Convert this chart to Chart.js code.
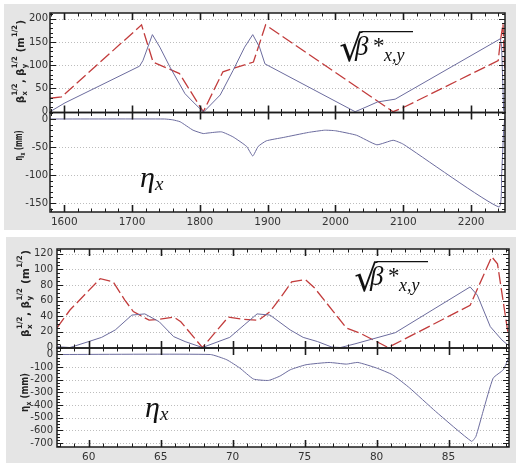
<!DOCTYPE html>
<html>
<head>
<meta charset="utf-8">
<script src="https://cdn.jsdelivr.net/npm/chart.js@4"></script>
<style>
  body { margin: 0; background: #fff; width: 516px; height: 463px; overflow: hidden; position: relative; }
  .fig { position: absolute; background: #e5e5e5; }
  #f1 { left: 4px; top: 4px; width: 512px; height: 226px; }
  #f2 { left: 6px; top: 237px; width: 510px; height: 226px; }
  canvas { display: block; }
</style>
</head>
<body>
<div class="fig" id="f1"><canvas id="c1" width="512" height="226"></canvas></div>
<div class="fig" id="f2"><canvas id="c2" width="510" height="226"></canvas></div>
<script>
// ---- top figure (s from 1580 to 2250 m) ----
const topSTicks = [1600, 1700, 1800, 1900, 2000, 2100, 2200];
const topBetaTicks = [0, 50, 100, 150, 200];
const topEtaTicks = [0, -50, -100, -150];

// sqrt(beta_x), solid
const topBxS = [1579, 1601, 1711, 1716, 1730, 1741, 1756, 1778, 1790, 1802, 1806, 1830, 1849, 1866, 1878, 1888, 1896, 2029, 2045, 2062, 2088, 2243, 2245, 2248];
const topBxV = [0, 19, 98, 110, 166, 139, 96, 39, 21, 4, 0, 36, 89, 139, 166, 139, 103, 0, 10, 21, 27, 157, 140, 2];
// sqrt(beta_y), dashed
const topByS = [1579, 1596, 1714, 1731, 1753, 1770, 1805, 1834, 1879, 1897, 2085, 2100, 2240, 2243, 2247, 2250];
const topByV = [29, 32, 187, 107, 93, 82, 0, 86, 107, 187, 0, 9, 110, 150, 189, 80];
// eta_x
const topEtaS = [1579, 1748, 1760, 1771, 1790, 1805, 1812, 1832, 1849, 1869, 1878, 1886, 1898, 1923, 1960, 1984, 2000, 2031, 2061, 2085, 2100, 2241, 2245, 2248, 2250];
const topEtaV = [0, 0, -1.5, -5, -20, -26, -25, -23, -32, -49, -66, -49, -39, -33, -24, -20, -21, -29, -46, -38, -45, -157, -100, -20, 5];

// ---- bottom figure (s from 57.8 to 89.2 m) ----
const botSTicks = [60, 65, 70, 75, 80, 85];
const botBetaTicks = [0, 20, 40, 60, 80, 100, 120];
const botEtaTicks = [0, -100, -200, -300, -400, -500, -600, -700];

const botBxS = [57.8, 58.7, 60, 60.9, 61.85, 63.0, 63.9, 64.9, 65.9, 66.7, 67.9, 69.8, 70.8, 71.7, 72.6, 74.0, 74.9, 75.9, 76.9, 77.5, 78.5, 81.3, 86.5, 87.0, 87.9, 88.7, 89.2];
const botBxV = [1, 0, 7.6, 13, 22.5, 41.5, 43, 33, 14, 7.6, 0, 13, 28.8, 43, 41.5, 22.5, 13, 7.6, 0.5, 0, 4.7, 19, 77.5, 67, 26.7, 9.8, 2];
const botByS = [57.8, 58.7, 60.8, 61.7, 62.5, 63.1, 64.2, 64.9, 65.9, 66.4, 67.9, 69.7, 70.8, 71.8, 72.6, 73.3, 74.1, 75.05, 75.7, 77.0, 77.9, 78.9, 80.8, 86.5, 88.0, 88.4, 89.2];
const botByV = [25, 48, 88, 84, 61, 46, 35, 36, 39, 33, 0, 39, 36, 35, 46, 63, 84, 87, 76, 46, 25, 18, 0, 54, 116, 107, 10];
const botEtaS = [57.8, 68.45, 69.6, 70.5, 71.45, 72.5, 73.3, 74.0, 75.1, 76.7, 77.9, 78.7, 80.0, 81.1, 82.3, 84.1, 86.6, 86.9, 87.4, 88.1, 88.8, 89.2];
const botEtaV = [0, 0, -42, -107, -194, -205, -170, -121, -81, -63, -76, -63, -107, -160, -265, -450, -687, -648, -450, -187, -121, -20];

const BLUE = '#6c6c9e';
const RED = '#c23c3c';
const TXT = '#333';
const SANS = '"DejaVu Sans", sans-serif';
const SERIF = '"Liberation Serif", serif';

function pts(xs, ys) {
  return xs.map((x, i) => ({ x: x, y: ys[i] }));
}

function fixedTicks(list) {
  return s => { s.ticks = list.map(v => ({ value: v })); };
}

// rotated axis title with stacked sub/superscripts
function drawRich(ctx, parts, cx, cy, len) {
  const big = 'bold 11px ' + SANS, small = 'bold 7.5px ' + SANS;
  let w = 0;
  const ws = parts.map(p => {
    let pw;
    if (typeof p === 'string') {
      ctx.font = big;
      pw = ctx.measureText(p).width;
    } else {
      ctx.font = small;
      pw = Math.max(ctx.measureText(p.sub || '').width, ctx.measureText(p.sup || '').width) + 1;
    }
    w += pw;
    return pw;
  });
  ctx.save();
  ctx.translate(cx, cy);
  ctx.rotate(-Math.PI / 2);
  ctx.scale(len / w, 1);
  ctx.fillStyle = '#222';
  ctx.textAlign = 'left';
  ctx.textBaseline = 'alphabetic';
  let x = -w / 2;
  parts.forEach((p, i) => {
    if (typeof p === 'string') {
      ctx.font = big;
      ctx.fillText(p, x, 4);
    } else {
      ctx.font = small;
      if (p.sub) ctx.fillText(p.sub, x + 0.5, 7.5);
      if (p.sup) ctx.fillText(p.sup, x + 0.5, -2.5);
    }
    x += ws[i];
  });
  ctx.restore();
}

function drawEta(ctx, x, y) {
  ctx.fillStyle = '#111';
  ctx.textAlign = 'left';
  ctx.textBaseline = 'alphabetic';
  ctx.font = 'italic 30px ' + SERIF;
  ctx.fillText('η', x, y);
  ctx.font = 'italic 19px ' + SERIF;
  ctx.fillText('x', x + 15, y + 3);
}

function drawRoot(ctx, x0, y0) {
  const h = 31;
  ctx.fillStyle = '#111';
  ctx.strokeStyle = '#111';
  ctx.textAlign = 'left';
  ctx.textBaseline = 'alphabetic';
  ctx.font = '100px "DejaVu Serif"';
  const m = ctx.measureText('√');
  const k = h / (m.actualBoundingBoxAscent + m.actualBoundingBoxDescent);
  ctx.font = (100 * k).toFixed(1) + 'px "DejaVu Serif"';
  const bx = x0 + m.actualBoundingBoxLeft * k;
  const by = y0 + m.actualBoundingBoxAscent * k;
  ctx.fillText('√', bx, by);
  const right = bx + m.actualBoundingBoxRight * k;
  ctx.lineWidth = 1.2;
  ctx.beginPath();
  ctx.moveTo(right - 1, y0 + 0.6);
  ctx.lineTo(x0 + 73, y0 + 0.6);
  ctx.stroke();
  ctx.font = 'italic 27px ' + SERIF;
  ctx.fillText('β', x0 + 15, y0 + 24);
  ctx.font = '23px ' + SERIF;
  ctx.textBaseline = 'top';
  ctx.fillText('*', x0 + 33, y0 + 4);
  ctx.textBaseline = 'alphabetic';
  ctx.font = 'italic 18px ' + SERIF;
  ctx.fillText('x,y', x0 + 44, y0 + 30);
}

function makeDecor(f) {
  return {
    id: 'decor',
    beforeDraw(chart) {
      const a = chart.chartArea, ctx = chart.ctx;
      ctx.save();
      ctx.fillStyle = '#fff';
      ctx.fillRect(a.left, a.top, a.right - a.left, a.bottom - a.top);
      ctx.restore();
    },
    beforeDatasetsDraw(chart) {
      const a = chart.chartArea, ctx = chart.ctx;
      ctx.save();
      ctx.strokeStyle = '#bdbdbd';
      ctx.lineWidth = 1;
      ctx.setLineDash([1, 2]);
      ['yb', 'ye'].forEach(id => {
        const s = chart.scales[id];
        s.ticks.forEach(t => {
          if (t.value === 0) return;
          const y = Math.round(s.getPixelForValue(t.value)) + 0.5;
          ctx.beginPath();
          ctx.moveTo(a.left, y);
          ctx.lineTo(a.right, y);
          ctx.stroke();
        });
      });
      ctx.restore();
    },
    afterDatasetsDraw(chart) {
      const a = chart.chartArea, ctx = chart.ctx, xs = chart.scales.x;
      ctx.save();
      ctx.strokeStyle = '#1c1c1c';
      [['yb', f.bMajor, f.bMinor], ['ye', f.eMajor, f.eMinor]].forEach(([id, major, minor]) => {
        const s = chart.scales[id];
        const top = s.top, bot = s.bottom;
        // x ticks, inward from top and bottom edge
        for (let v = Math.ceil(xs.min / f.xMinor) * f.xMinor; v <= xs.max; v += f.xMinor) {
          const isMaj = Math.abs(v / f.xMajor - Math.round(v / f.xMajor)) < 1e-6;
          const len = isMaj ? 7 : 3.5;
          const x = Math.round(xs.getPixelForValue(v)) + 0.5;
          ctx.lineWidth = isMaj ? 1.6 : 1;
          ctx.beginPath();
          ctx.moveTo(x, top); ctx.lineTo(x, top + len);
          ctx.moveTo(x, bot); ctx.lineTo(x, bot - len);
          ctx.stroke();
        }
        // y ticks, inward from left and right edge
        for (let v = Math.ceil(s.min / minor) * minor; v <= s.max; v += minor) {
          const isMaj = Math.abs(v / major - Math.round(v / major)) < 1e-6;
          const len = isMaj ? 6 : 3;
          const y = Math.round(s.getPixelForValue(v)) + 0.5;
          ctx.lineWidth = 1;
          ctx.beginPath();
          ctx.moveTo(a.left, y); ctx.lineTo(a.left + len, y);
          ctx.moveTo(a.right, y); ctx.lineTo(a.right - len, y);
          ctx.stroke();
        }
        ctx.lineWidth = 1.5;
        ctx.strokeRect(a.left, top, a.right - a.left, bot - top);
      });
      drawRich(ctx, ['β', { sub: 'x', sup: '1/2' }, ', β', { sub: 'y', sup: '1/2' }, ' (m', { sup: '1/2' }, ')'],
        f.bLab[0], f.bLab[1], f.bLab[2]);
      drawRich(ctx, ['η', { sub: 'x' }, ' (mm)'], f.eLab[0], f.eLab[1], f.eLab[2]);
      drawEta(ctx, f.etaAt[0], f.etaAt[1]);
      drawRoot(ctx, f.rootAt[0], f.rootAt[1]);
      ctx.restore();
    }
  };
}

function makeFig(id, f) {
  const tickFont = { family: SANS, size: 10 };
  return new Chart(document.getElementById(id), {
    type: 'line',
    data: {
      datasets: [
        { data: pts(f.sx, f.bx), yAxisID: 'yb', borderColor: BLUE, borderWidth: 1, pointRadius: 0, tension: 0 },
        { data: pts(f.sy, f.by), yAxisID: 'yb', borderColor: RED, borderWidth: 1.3, borderDash: [12, 4], pointRadius: 0, tension: 0 },
        { data: pts(f.se, f.eta), yAxisID: 'ye', borderColor: BLUE, borderWidth: 1, pointRadius: 0, tension: 0.15 }
      ]
    },
    options: {
      responsive: false,
      animation: false,
      events: [],
      layout: { padding: f.pad },
      plugins: { legend: { display: false }, tooltip: { enabled: false } },
      scales: {
        x: {
          type: 'linear', min: f.xMin, max: f.xMax,
          grid: { display: false, drawTicks: false }, border: { display: false },
          afterBuildTicks: fixedTicks(f.xTicks),
          afterFit: s => { s.height = f.xh; },
          ticks: { autoSkip: false, maxRotation: 0, padding: 4, color: TXT, font: { family: SANS, size: 10.5 }, callback: v => String(v) }
        },
        yb: {
          type: 'linear', position: 'left', stack: 'fig', stackWeight: 1, weight: 2,
          min: f.bMin, max: f.bMax,
          grid: { display: false, drawTicks: false }, border: { display: false },
          afterBuildTicks: fixedTicks(f.bTicks),
          afterFit: s => { s.width = f.yw; },
          ticks: { autoSkip: false, padding: f.yPad, color: TXT, font: tickFont, callback: v => String(v) }
        },
        ye: {
          type: 'linear', position: 'left', stack: 'fig', stackWeight: 1, weight: 1,
          min: f.eMin, max: f.eMax,
          grid: { display: false, drawTicks: false }, border: { display: false },
          afterBuildTicks: fixedTicks(f.eTicks),
          afterFit: s => { s.width = f.yw; },
          ticks: { autoSkip: false, padding: f.yPad, color: TXT, font: tickFont, callback: v => String(v) }
        }
      }
    },
    plugins: [makeDecor(f)]
  });
}

makeFig('c1', {
  sx: topBxS, bx: topBxV, sy: topByS, by: topByV, se: topEtaS, eta: topEtaV,
  xMin: 1579, xMax: 2250, xTicks: topSTicks, xMajor: 100, xMinor: 20,
  bMin: -1.7, bMax: 212.6, bTicks: topBetaTicks, bMajor: 50, bMinor: 10,
  eMin: -166, eMax: 11.6, eTicks: topEtaTicks, eMajor: 50, eMinor: 10,
  pad: { top: 9, right: 11, left: 0, bottom: 0 }, yw: 46, xh: 18, yPad: 2,
  bLab: [15.5, 57.5, 83], eLab: [13.5, 141.5, 30],
  etaAt: [136, 183], rootAt: [336, 27]
});

makeFig('c2', {
  sx: botBxS, bx: botBxV, sy: botByS, by: botByV, se: botEtaS, eta: botEtaV,
  xMin: 57.8, xMax: 89.2, xTicks: botSTicks, xMajor: 5, xMinor: 1,
  bMin: -0.6, bMax: 126, bTicks: botBetaTicks, bMajor: 20, bMinor: 5,
  eMin: -731.6, eMax: 51.4, eTicks: botEtaTicks, eMajor: 100, eMinor: 25,
  pad: { top: 12, right: 7, left: 0, bottom: 0 }, yw: 51, xh: 16, yPad: 4,
  bLab: [18.5, 56.5, 87], eLab: [17.5, 155.5, 39],
  etaAt: [139, 180], rootAt: [349, 24]
});
</script>
</body>
</html>
